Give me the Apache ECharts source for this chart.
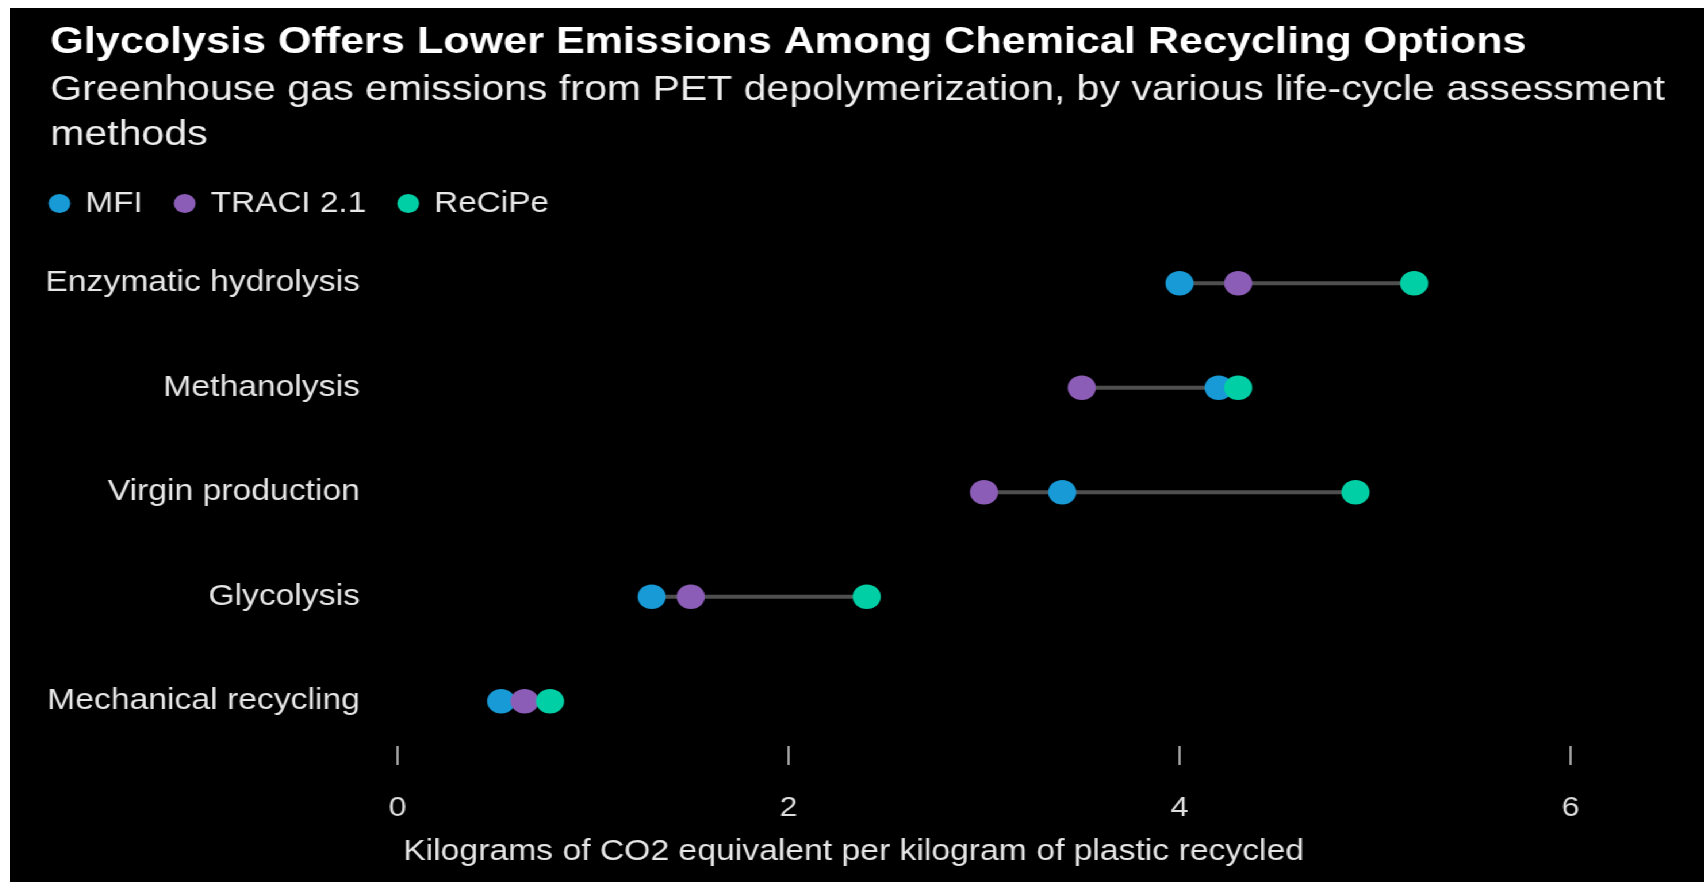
<!DOCTYPE html>
<html>
<head>
<meta charset="utf-8">
<script src="https://cdn.jsdelivr.net/npm/echarts@6/dist/echarts.min.js"></script>
<style>
html, body { margin: 0; padding: 0; background: #fff; width: 1704px; height: 882px; overflow: hidden; }
#chart { position: absolute; left: 10px; top: 8px; width: 1473px; height: 874px; background: #000;
         transform: scaleX(1.15); transform-origin: 0 0; }
</style>
</head>
<body>
<div id="chart"></div>
<script>
// ---- data ----
const categories = ['Enzymatic hydrolysis', 'Methanolysis', 'Virgin production', 'Glycolysis', 'Mechanical recycling'];
const seriesNames = ['MFI', 'TRACI 2.1', 'ReCiPe'];
const mfi    = [4.0, 4.2, 3.4, 1.3, 0.53];
const traci  = [4.3, 3.5, 3.0, 1.5, 0.65];
const recipe = [5.2, 4.3, 4.9, 2.4, 0.78];
const xTickValues = [0, 2, 4, 6];
const titleText = 'Glycolysis Offers Lower Emissions Among Chemical Recycling Options';
const subtitleText = 'Greenhouse gas emissions from PET depolymerization, by various life-cycle assessment\nmethods';
const xAxisName = 'Kilograms of CO2 equivalent per kilogram of plastic recycled';

// ---- styles ----
const FONT = 'Liberation Sans, Arial, sans-serif';
const colors = ['#189ad6', '#8c5db6', '#00cfa6'];

const ranges = categories.map((c, i) => [i, Math.min(mfi[i], traci[i], recipe[i]), Math.max(mfi[i], traci[i], recipe[i])]);
const allSeries = [mfi, traci, recipe];

const chart = echarts.init(document.getElementById('chart'), null, { renderer: 'canvas' });
chart.setOption({
  animation: false,
  backgroundColor: '#000',
  title: [
    { text: titleText, left: 30, top: 11,
      textStyle: { color: '#ffffff', fontSize: 37.5, fontWeight: 'bold', fontFamily: FONT } },
    { text: subtitleText, left: 30, top: 54.5,
      textStyle: { color: '#eeeeee', fontSize: 35.7, fontWeight: 'normal', lineHeight: 45, fontFamily: FONT } }
  ],
  legend: {
    data: seriesNames, left: 28.5, top: 176, icon: 'circle',
    itemWidth: 35, itemHeight: 19, itemGap: 27,
    textStyle: { color: '#e8e8e8', fontSize: 29, fontFamily: FONT }
  },
  grid: { left: 337, right: 116, top: 223, bottom: 128.5 },
  xAxis: {
    type: 'value', min: xTickValues[0], max: xTickValues[xTickValues.length - 1], interval: 2,
    position: 'bottom', offset: -7.5,
    axisLine: { show: false },
    axisTick: { show: true, length: 19, lineStyle: { color: '#cccccc', width: 1.6 } },
    splitLine: { show: false },
    axisLabel: { color: '#dddddd', fontSize: 28, margin: 48, fontFamily: FONT },
    name: xAxisName, nameLocation: 'start', nameGap: -5,
    nameTextStyle: { color: '#e6e6e6', fontSize: 29.3, fontFamily: FONT, align: 'left', verticalAlign: 'top', padding: [91, 0, 0, 0] }
  },
  yAxis: {
    type: 'category', data: categories, inverse: true,
    axisLine: { show: false }, axisTick: { show: false }, splitLine: { show: false },
    axisLabel: { color: '#e6e6e6', fontSize: 29.3, margin: 32.7, fontFamily: FONT }
  },
  series: [
    {
      type: 'custom', silent: true, z: 1,
      data: ranges,
      encode: { x: [1, 2], y: 0 },
      renderItem: function (params, api) {
        const idx = api.value(0);
        const a = api.coord([api.value(1), idx]);
        const b = api.coord([api.value(2), idx]);
        return { type: 'line', shape: { x1: a[0], y1: a[1], x2: b[0], y2: b[1] },
                 style: { stroke: '#4f4f4f', lineWidth: 4 } };
      }
    }
  ].concat(allSeries.map((vals, k) => ({
    name: seriesNames[k], type: 'scatter', z: 2 + k,
    symbol: 'circle', symbolSize: 24.5,
    itemStyle: { color: colors[k], opacity: 1 },
    data: vals.map((v, i) => [v, i])
  })))
});
</script>
</body>
</html>
